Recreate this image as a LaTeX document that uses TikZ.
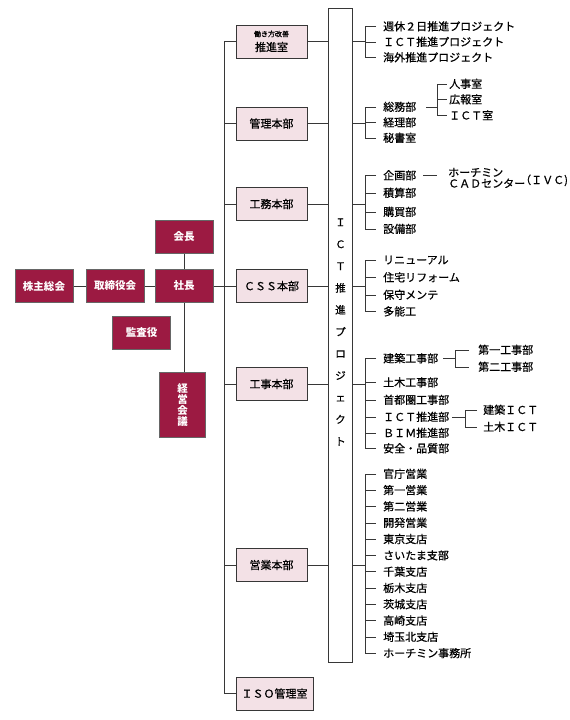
\documentclass[tikz,border=0pt]{standalone}
\usepackage{fontspec}
\setmainfont{Noto Sans CJK JP}[FakeBold=0.6]
\newfontfamily\darkfont{Noto Sans CJK JP}
\usetikzlibrary{calc}
\definecolor{darkred}{RGB}{156,26,66}
\definecolor{pinkfill}{RGB}{243,225,230}
\definecolor{lin}{RGB}{55,55,55}
\newcommand{\bracketdraw}[4]{\draw[conn] ([xshift=-#4]#1.west) -| (#2.west -| #3) -- ([xshift=-#4]#2.west);}
\begin{document}
\begin{tikzpicture}[x=1pt,y=-1pt,
 darkbox/.style={draw=gray!80!black, line width=1pt, fill=darkred, text=white, font=\darkfont\fontsize{10.5}{11}\selectfont\bfseries, minimum width=58pt, minimum height=33pt, inner sep=0pt},
 pinkbox/.style={draw=lin, line width=0.9pt, fill=pinkfill, font=\fontsize{11}{11}\selectfont, minimum width=71pt, minimum height=33pt, inner sep=0pt},
 item/.style={anchor=west, inner sep=0pt, font=\fontsize{11}{11}\selectfont, text height=9.5pt, text depth=1.5pt},
 conn/.style={draw=lin, line width=0.8pt},
]
\useasboundingbox (0,0) rectangle (570,720);

% ---------- left (dark) boxes ----------
\node[darkbox] (kaicho) at (184,237) {会長};
\node[darkbox] (kabu) at (44,286) {株主総会};
\node[darkbox] (tori) at (115,286) {取締役会};
\node[darkbox] (shacho) at (184,286) {社長};
\node[darkbox] (kansa) at (141.5,333) {監査役};
\node[darkbox, minimum width=46pt, minimum height=65pt, align=center, font=\darkfont\fontsize{10.5}{11}\selectfont\bfseries] (keiei) at (182.5,405) {経\\営\\会\\議};

\draw[conn] (kabu.east) -- (tori.west);
\draw[conn] (tori.east) -- (shacho.west);
\draw[conn] (kaicho.south) -- (shacho.north);
\draw[conn] (shacho.south) -- (shacho.south |- keiei.north);

% ---------- middle (pink) boxes ----------
\node[pinkbox] (ws) at (271.5,41.5) {};
\node[inner sep=0pt, font=\fontsize{7}{7}\selectfont] (wslab1) at (271.5,34) {働き方改善};
\node[inner sep=0pt, font=\fontsize{11}{11}\selectfont] (wslab2) at (271.5,47) {推進室};
\node[pinkbox] (kanri) at (271.5,123.5) {管理本部};
\node[pinkbox] (koumu) at (271.5,204) {工務本部};
\node[pinkbox] (css) at (271.5,286) {ＣＳＳ本部};
\node[pinkbox] (kouji) at (271.5,384) {工事本部};
\node[pinkbox] (eigyo) at (271.5,565) {営業本部};
\node[pinkbox, minimum width=77pt] (iso) at (274.5,693.5) {ＩＳＯ管理室};

% trunk
\draw[conn] (ws.west) -- ++(-11,0) |- (iso.west);
\foreach \b in {kanri,koumu,css,kouji,eigyo}
  \draw[conn] (\b.west) -- ++(-11,0);
\draw[conn] (shacho.east) -- (css.west);

% ---------- tall ICT box ----------
\node[draw=lin, line width=0.9pt, fill=white, minimum width=24.5pt, minimum height=654pt, inner sep=0pt] (ict) at (340.5,335) {};
\node[inner sep=0pt, align=center, font=\fontsize{10.5}{21.9}\selectfont] (ictlab) at (340.5,332) {Ｉ\\Ｃ\\Ｔ\\推\\進\\プ\\ロ\\ジ\\ェ\\ク\\ト};

\foreach \b in {ws,kanri,koumu,css,kouji,eigyo}
  \draw[conn] (\b.east) -- (\b.east -| ict.west);

\coordinate (bx) at (365,0);
\foreach \b in {ws,kanri,koumu,css,kouji,eigyo}
  \draw[conn] (\b.east -| ict.east) -- (\b.east -| bx);

% ---------- group 1 ----------
\node[item] (a1) at (383,26.5) {週休２日推進プロジェクト};
\node[item] (a2) at (383,42) {ＩＣＴ推進プロジェクト};
\node[item] (a3) at (383,57.5) {海外推進プロジェクト};
\bracketdraw{a1}{a3}{bx}{7pt}
\draw[conn] (a2.west -| bx) -- ([xshift=-7pt]a2.west);

% ---------- group 2 ----------
\node[item] (b1) at (383,107) {総務部};
\node[item] (b2) at (383,122.5) {経理部};
\node[item] (b3) at (383,138) {秘書室};
\bracketdraw{b1}{b3}{bx}{7pt}
\draw[conn] (b2.west -| bx) -- ([xshift=-7pt]b2.west);

\coordinate (sb1) at (437,0);
\node[item] (s1) at (449,84) {人事室};
\node[item] (s2) at (449,99.5) {広報室};
\node[item] (s3) at (449,115.5) {ＩＣＴ室};
\draw[conn] ([xshift=10pt]b1.east) -- (b1.east -| sb1);
\bracketdraw{s1}{s3}{sb1}{2.5pt}
\draw[conn] (s2.west -| sb1) -- ([xshift=-2.5pt]s2.west);

% ---------- group 3 ----------
\node[item] (c1) at (383,175.5) {企画部};
\node[item] (c2) at (383,193) {積算部};
\node[item] (c3) at (383,212) {購買部};
\node[item] (c4) at (383,229) {設備部};
\bracketdraw{c1}{c4}{bx}{7pt}
\foreach \n in {c2,c3} \draw[conn] (\n.west -| bx) -- ([xshift=-7pt]\n.west);
\coordinate (c1end) at (437,175.5);
\draw[conn] ([xshift=7pt]c1.east) -- (c1end);
\node[item] (ivc1) at (448,172.5) {ホーチミン};
\node[item] (ivc2) at (448,183.5) {ＣＡＤセンター};
\node[item] (ivc3) at (520,180) {（ＩＶＣ)};

% ---------- group 4 ----------
\node[item] (d1) at (383,260) {リニューアル};
\node[item] (d2) at (383,277.5) {住宅リフォーム};
\node[item] (d3) at (383,295) {保守メンテ};
\node[item] (d4) at (383,311.5) {多能工};
\bracketdraw{d1}{d4}{bx}{7pt}
\foreach \n in {d2,d3} \draw[conn] (\n.west -| bx) -- ([xshift=-7pt]\n.west);

% ---------- group 5 ----------
\node[item] (e1) at (383,358.5) {建築工事部};
\node[item] (e2) at (383,382.5) {土木工事部};
\node[item] (e3) at (383,400) {首都圏工事部};
\node[item] (e4) at (383,417) {ＩＣＴ推進部};
\node[item] (e5) at (383,433) {ＢＩＭ推進部};
\node[item] (e6) at (383,448.5) {安全・品質部};
\bracketdraw{e1}{e6}{bx}{7pt}
\foreach \n in {e2,e3,e4,e5} \draw[conn] (\n.west -| bx) -- ([xshift=-7pt]\n.west);

\coordinate (sb2) at (455,0);
\node[item] (f1) at (478,350) {第一工事部};
\node[item] (f2) at (478,367) {第二工事部};
\draw[conn] ([xshift=5pt]e1.east) -- (e1.east -| sb2);
\bracketdraw{f1}{f2}{sb2}{9pt}

\coordinate (sb3) at (465,0);
\node[item] (g1) at (483,410) {建築ＩＣＴ};
\node[item] (g2) at (483,427) {土木ＩＣＴ};
\draw[conn] ([xshift=3pt]e4.east) -- (e4.east -| sb3);
\bracketdraw{g1}{g2}{sb3}{6pt}

% ---------- group 6 ----------
\foreach \t [count=\i from 0] in {官庁営業,第一営業,第二営業,開発営業,東京支店,さいたま支部,千葉支店,栃木支店,茨城支店,高崎支店,埼玉北支店,ホーチミン事務所}
  \node[item] (h\i) at (383,474+16.3*\i) {\t};
\bracketdraw{h0}{h11}{bx}{7pt}
\foreach \i in {1,...,10} \draw[conn] (h\i.west -| bx) -- ([xshift=-7pt]h\i.west);

\end{tikzpicture}
\end{document}
